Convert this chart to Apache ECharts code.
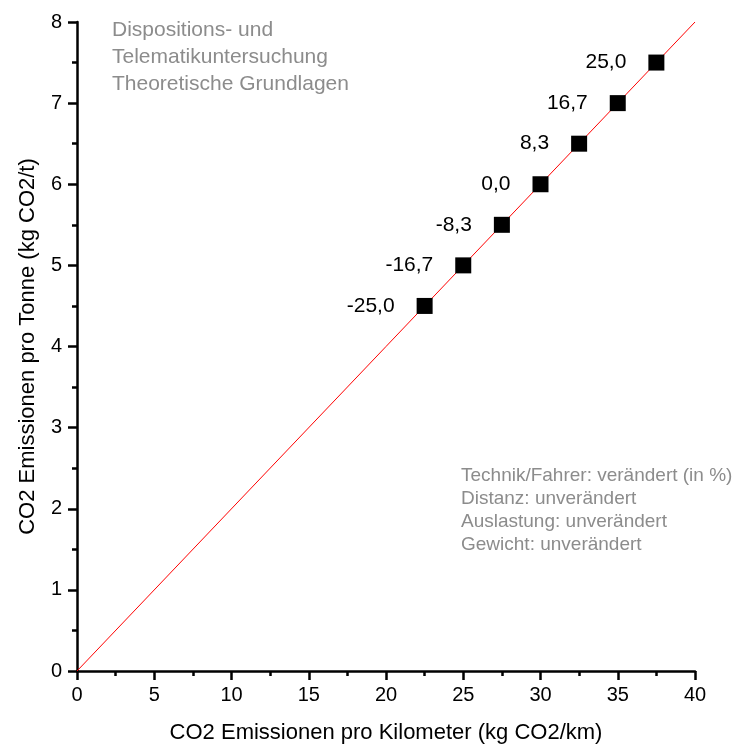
<!DOCTYPE html>
<html>
<head>
<meta charset="utf-8">
<script src="https://cdn.jsdelivr.net/npm/echarts@6/dist/echarts.min.js"></script>
<style>
  html, body { margin: 0; padding: 0; background: #fff; }
  #chart { width: 737px; height: 749px; }
</style>
</head>
<body>
<div id="chart"></div>
<script>
// CO2 per kilometre vs CO2 per tonne, technique/driver variation in percent
const kmEmissions = [22.5, 25.0, 27.5, 30.0, 32.5, 35.0, 37.5];
const tonneEmissions = [4.5, 5.0, 5.5, 6.0, 6.5, 7.0, 7.5];
const changePct = ['-25,0', '-16,7', '-8,3', '0,0', '8,3', '16,7', '25,0'];
const refLineX = [0, 40];
const refLineY = [0, 8];

const font = '"Liberation Sans", Arial, sans-serif';
const chart = echarts.init(document.getElementById('chart'));

const axisCommon = {
  axisLine: { show: true, lineStyle: { color: '#000', width: 2.5 } },
  axisTick: { show: true, length: 9, lineStyle: { color: '#000', width: 2.5 } },
  minorTick: { show: true, splitNumber: 2, length: 5, lineStyle: { color: '#000', width: 2.5 } },
  splitLine: { show: false },
  axisLabel: { color: '#000', fontSize: 20, fontFamily: font },
  nameTextStyle: { color: '#000', fontSize: 22, fontFamily: font }
};

chart.setOption({
  animation: false,
  grid: { left: 77, right: 42, top: 22, bottom: 78 },
  xAxis: Object.assign({}, axisCommon, {
    type: 'value', min: 0, max: 40, interval: 5,
    name: 'CO2 Emissionen pro Kilometer (kg CO2/km)',
    nameLocation: 'middle', nameGap: 51,
    axisLabel: Object.assign({}, axisCommon.axisLabel, { margin: 14 })
  }),
  yAxis: Object.assign({}, axisCommon, {
    type: 'value', min: 0, max: 8, interval: 1,
    name: 'CO2 Emissionen pro Tonne (kg CO2/t)',
    nameLocation: 'middle', nameGap: 38,
    axisLabel: Object.assign({}, axisCommon.axisLabel, { margin: 15 })
  }),
  graphic: [
    {
      type: 'text', left: 112, top: 17,
      style: {
        text: 'Dispositions- und\nTelematikuntersuchung\nTheoretische Grundlagen',
        fill: '#8c8c8c', font: '21px ' + font, lineHeight: 27
      }
    },
    {
      type: 'text', left: 461, top: 464,
      style: {
        text: 'Technik/Fahrer: verändert (in %)\nDistanz: unverändert\nAuslastung: unverändert\nGewicht: unverändert',
        fill: '#8c8c8c', font: '19px ' + font, lineHeight: 23
      }
    }
  ],
  series: [
    {
      type: 'line',
      data: refLineX.map((x, i) => [x, refLineY[i]]),
      symbol: 'none',
      lineStyle: { color: '#ff0000', width: 1 },
      z: 2
    },
    {
      type: 'scatter',
      data: kmEmissions.map((x, i) => [x, tonneEmissions[i]]),
      symbol: 'rect',
      symbolSize: 16,
      itemStyle: { color: '#000', opacity: 1 },
      label: {
        show: true, position: 'left', distance: 22,
        formatter: p => changePct[p.dataIndex],
        color: '#000', fontSize: 21, fontFamily: font
      },
      z: 3
    }
  ]
});
</script>
</body>
</html>
